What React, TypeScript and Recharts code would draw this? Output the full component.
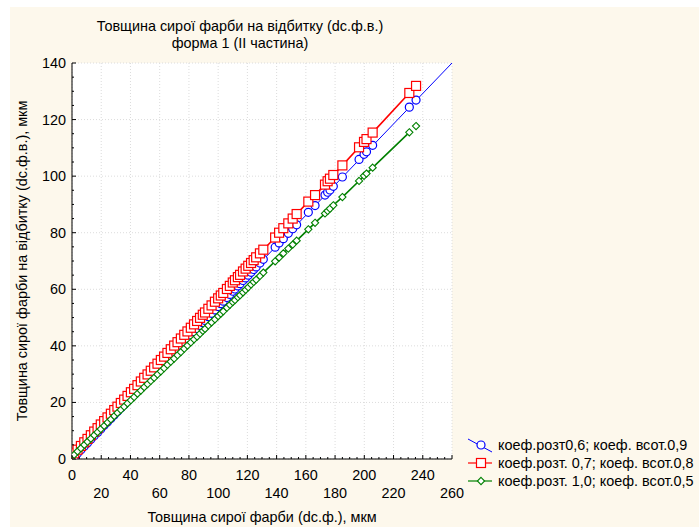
import React from 'react';
import { ScatterChart, Scatter, XAxis, YAxis, CartesianGrid } from 'recharts';

// thickness of wet ink on the form (x), shared by all three series
const thickness = [
  1.5, 3.8, 6.1, 8.4, 10.6, 12.9, 15.2, 17.5, 19.7, 22.0, 24.3, 26.6, 28.9, 31.1, 33.4,
  35.7, 38.0, 40.3, 42.5, 44.8, 47.1, 49.4, 51.7, 53.9, 56.2, 58.5, 60.8, 63.0, 65.3,
  67.6, 69.9, 72.2, 74.5, 76.8, 79.0, 81.3, 83.5, 85.6, 87.6, 89.5, 91.0, 93.3, 95.5,
  97.8, 100.0, 101.8, 103.5, 106.0, 108.0, 110.0, 111.5, 113.5, 115.0, 117.0, 118.8,
  120.6, 122.5, 124.3, 126.0, 128.6, 130.9, 139.0, 141.7, 144.6, 148.0, 151.0, 153.7,
  161.7, 166.3, 173.1, 174.9, 176.5, 178.8, 185.0, 196.4, 199.8, 201.5, 205.7, 230.8, 235.4,
];

const blueVals = [
  0.8, 2.0, 3.3, 4.5, 5.7, 7.0, 8.2, 9.4, 10.6, 11.9, 13.1, 14.3, 15.6, 16.8, 18.0,
  19.2, 20.5, 21.7, 22.9, 24.1, 25.4, 26.6, 27.9, 29.1, 30.3, 31.5, 32.8, 34.0, 35.2,
  36.4, 37.7, 38.9, 40.2, 41.4, 42.6, 43.8, 45.0, 46.1, 47.2, 48.2, 49.0, 50.3, 51.5,
  52.7, 53.9, 54.9, 55.8, 57.1, 58.2, 59.3, 60.1, 61.2, 62.0, 63.1, 64.0,
  65.0, 66.0, 67.0, 67.9, 69.3, 70.6, 74.9, 76.4, 77.9, 79.8, 81.4, 82.8,
  87.2, 89.6, 93.3, 94.3, 95.1, 96.4, 99.7, 105.9, 107.7, 108.6, 110.9, 124.4, 126.9,
];

const redVals = [
  2.0, 3.3, 4.6, 5.9, 7.1, 8.4, 9.7, 10.9, 12.2, 13.4, 14.7, 16.0, 17.3, 18.5, 19.8,
  21.0, 22.3, 23.6, 24.8, 26.1, 27.4, 28.7, 29.9, 31.2, 32.4, 33.7, 35.0, 36.2, 37.5,
  38.8, 40.1, 41.3, 42.6, 43.9, 45.1, 46.4, 47.6, 48.8, 49.9, 51.0, 51.8, 53.1, 54.3,
  55.6, 56.8, 57.8, 58.7, 60.1, 61.2, 62.4, 63.2, 64.3, 65.1, 66.3, 67.3,
  68.3, 69.3, 70.3, 71.3, 72.7, 74.0, 78.3, 80.0, 81.6, 83.3, 85.0, 86.6,
  91.0, 93.3, 97.0, 98.2, 99.1, 100.4, 103.8, 110.2, 112.1, 113.1, 115.4, 129.4, 131.9,
];

const greenVals = [
  1.5, 2.7, 3.8, 5.0, 6.1, 7.2, 8.4, 9.5, 10.6, 11.7, 12.9, 14.0, 15.2, 16.3, 17.4,
  18.5, 19.7, 20.8, 21.9, 23.1, 24.2, 25.4, 26.5, 27.6, 28.7, 29.9, 31.0, 32.1, 33.3,
  34.4, 35.5, 36.7, 37.8, 39.0, 40.1, 41.2, 42.3, 43.3, 44.3, 45.3, 46.0, 47.2, 48.3,
  49.4, 50.5, 51.4, 52.2, 53.5, 54.5, 55.5, 56.2, 57.2, 57.9, 58.9, 59.8,
  60.7, 61.7, 62.6, 63.4, 64.7, 65.9, 69.9, 71.2, 72.7, 74.4, 75.8, 77.2,
  81.2, 83.5, 86.8, 87.7, 88.5, 89.7, 92.6, 98.3, 100.1, 100.9, 103.0, 115.5, 117.7,
];

// fitted line for the first series (ends of the line)
const blueFitX = [0, 260];
const blueFitY = [0, 140];

const xMajor = [0, 20, 40, 60, 80, 100, 120, 140, 160, 180, 200, 220, 240, 260];
const yMajor = [0, 20, 40, 60, 80, 100, 120, 140];

const xTicks: number[] = [];
for (let v = 0; v <= 260; v += 5) xTicks.push(v);
const yTicks: number[] = [];
for (let v = 0; v <= 140; v += 5) yTicks.push(v);

const toPts = (xs: number[], ys: number[]) => xs.map((x, i) => ({ x, y: ys[i] }));

const series = [
  { name: 'коеф.розт0,6; коеф. всот.0,9', color: '#0000ff', marker: 'circle', vals: blueVals },
  { name: 'коеф.розт. 0,7; коеф. всот.0,8', color: '#ff0000', marker: 'square', vals: redVals },
  { name: 'коеф.розт. 1,0; коеф. всот.0,5', color: '#008000', marker: 'diamond', vals: greenVals },
];

const FONT = "'Liberation Sans', Arial, sans-serif";
const FS = 14.4;

const drawMarker = (kind: string, color: string, cx: number, cy: number) => {
  if (kind === 'circle')
    return <circle cx={cx} cy={cy} r={4} fill="#fff" stroke={color} strokeWidth={1.2} />;
  if (kind === 'square')
    return <rect x={cx - 4.5} y={cy - 4.5} width={9} height={9} fill="#fff" stroke={color} strokeWidth={1.2} />;
  return (
    <path
      d={`M${cx},${cy - 3.6}L${cx + 3.6},${cy}L${cx},${cy + 3.6}L${cx - 3.6},${cy}Z`}
      fill="#fff"
      stroke={color}
      strokeWidth={1.1}
    />
  );
};

const markerShape = (kind: string, color: string) => (props: any) => {
  const { cx, cy } = props;
  if (cx == null || cy == null) return <g />;
  return drawMarker(kind, color, cx, cy);
};

const noShape = () => <g />;

const isMajor = (v: number) => v % 20 === 0;

const LeftTick = (props: any) => {
  const { x, y, payload } = props;
  const v = payload.value;
  const ax = x + 6;
  return (
    <g>
      <line x1={ax} x2={ax + (isMajor(v) ? 4 : 2)} y1={y} y2={y} stroke="#000" />
      {isMajor(v) && (
        <text x={x} y={y + 5} textAnchor="end" fontSize={FS} fontFamily={FONT} fill="#000">
          {v}
        </text>
      )}
    </g>
  );
};

const BottomTick = (props: any) => {
  const { x, y, payload } = props;
  const v = payload.value;
  return (
    <g>
      <line x1={x} x2={x} y1={y} y2={y - (isMajor(v) ? 4 : 2)} stroke="#000" />
      {isMajor(v) && (
        <text x={x} y={y + (v % 40 === 0 ? 21 : 39)} textAnchor="middle" fontSize={FS} fontFamily={FONT} fill="#000">
          {v}
        </text>
      )}
    </g>
  );
};

const TopTick = (props: any) => {
  const { x, y, payload } = props;
  const v = payload.value;
  return <line x1={x} x2={x} y1={y} y2={y + (isMajor(v) ? 4 : 2)} stroke="#000" />;
};

const RightTick = (props: any) => {
  const { x, y, payload } = props;
  const v = payload.value;
  return <line x1={x} x2={x - (isMajor(v) ? 4 : 2)} y1={y} y2={y} stroke="#000" />;
};

export default function App() {
  const blueFit = toPts(blueFitX, blueFitY);
  const pts = series.map((s) => toPts(thickness, s.vals));

  return (
    <div style={{ position: 'absolute', left: 0, top: 0, width: 699, height: 527, background: '#fff', overflow: 'hidden' }}>
      <div style={{ position: 'absolute', left: 10, top: 7, right: 0, bottom: 0, background: '#fdf8ec' }} />
      <div style={{ position: 'absolute', left: 0, top: 0 }}>
        <ScatterChart width={699} height={527} margin={{ top: 63, right: 247, bottom: 0, left: 0 }}>
          <XAxis xAxisId="grid" type="number" dataKey="x" domain={[0, 260]} ticks={xMajor} allowDataOverflow hide />
          <YAxis yAxisId="grid" type="number" dataKey="y" domain={[0, 140]} ticks={yMajor} allowDataOverflow hide />
          <CartesianGrid
            xAxisId="grid"
            yAxisId="grid"
            fill="#fff"
            stroke="#dcdcdc"
            strokeDasharray="1 2"
          />
          <XAxis
            type="number"
            dataKey="x"
            domain={[0, 260]}
            ticks={xTicks}
            interval={0}
            allowDataOverflow
            height={68}
            tickSize={0}
            tickMargin={0}
            tickLine={false}
            axisLine={{ stroke: '#000' }}
            tick={BottomTick}
          />
          <YAxis
            type="number"
            dataKey="y"
            domain={[0, 140]}
            ticks={yTicks}
            interval={0}
            allowDataOverflow
            width={72}
            tickSize={0}
            tickMargin={6}
            tickLine={false}
            axisLine={{ stroke: '#000' }}
            tick={LeftTick}
          />
          <XAxis
            xAxisId="top"
            orientation="top"
            type="number"
            dataKey="x"
            domain={[0, 260]}
            ticks={xTicks}
            interval={0}
            allowDataOverflow
            height={0}
            tickSize={0}
            tickMargin={0}
            tickLine={false}
            axisLine={{ stroke: '#000' }}
            tick={TopTick}
          />
          <YAxis
            yAxisId="right"
            orientation="right"
            type="number"
            dataKey="y"
            domain={[0, 140]}
            ticks={yTicks}
            interval={0}
            allowDataOverflow
            width={0}
            tickSize={0}
            tickMargin={0}
            tickLine={false}
            axisLine={{ stroke: '#000' }}
            tick={RightTick}
          />
          <Scatter xAxisId="top" yAxisId="right" data={blueFit} shape={noShape} isAnimationActive={false} />
          <Scatter xAxisId="grid" yAxisId="grid" data={blueFit} shape={noShape} isAnimationActive={false} />

          <Scatter data={blueFit} line={{ stroke: '#0000ff', strokeWidth: 1 }} shape={noShape} isAnimationActive={false} />
          <Scatter data={pts[0]} shape={markerShape('circle', '#0000ff')} isAnimationActive={false} />
          <Scatter data={pts[1].slice(0, -1)} line={{ stroke: '#ff0000', strokeWidth: 1.6 }} shape={noShape} isAnimationActive={false} />
          <Scatter data={pts[1]} shape={markerShape('square', '#ff0000')} isAnimationActive={false} />
          <Scatter data={pts[2].slice(0, -1)} line={{ stroke: '#008000', strokeWidth: 1.6 }} shape={noShape} isAnimationActive={false} />
          <Scatter data={pts[2]} shape={markerShape('diamond', '#008000')} isAnimationActive={false} />
        </ScatterChart>
      </div>
      <svg width={699} height={527} style={{ position: 'absolute', left: 0, top: 0, pointerEvents: 'none' }}>
        <text x={240} y={31} textAnchor="middle" fontSize={FS} fontFamily={FONT} fill="#000">
          Товщина сирої фарби на відбитку (dc.ф.в.)
        </text>
        <text x={240} y={48} textAnchor="middle" fontSize={FS} fontFamily={FONT} fill="#000">
          форма 1 (ІІ частина)
        </text>
        <text x={262} y={522} textAnchor="middle" fontSize={FS} fontFamily={FONT} fill="#000">
          Товщина сирої фарби (dc.ф.), мкм
        </text>
        <text
          x={0}
          y={0}
          transform="translate(27,261) rotate(-90)"
          textAnchor="middle"
          fontSize={FS}
          fontFamily={FONT}
          fill="#000"
        >
          Товщина сирої фарби на відбитку (dc.ф.в.), мкм
        </text>
        {series.map((s, i) => {
          const cy = 445 + i * 18;
          return (
            <g key={s.name}>
              {i === 0 ? (
                <line x1={468} y1={cy - 6} x2={492} y2={cy + 7} stroke={s.color} strokeWidth={1} />
              ) : (
                <line x1={468} y1={cy} x2={492} y2={cy} stroke={s.color} strokeWidth={1.2} />
              )}
              {drawMarker(s.marker, s.color, 481, cy)}
              <text x={498} y={cy + 5} fontSize={FS} fontFamily={FONT} fill="#000">
                {s.name}
              </text>
            </g>
          );
        })}
      </svg>
    </div>
  );
}
